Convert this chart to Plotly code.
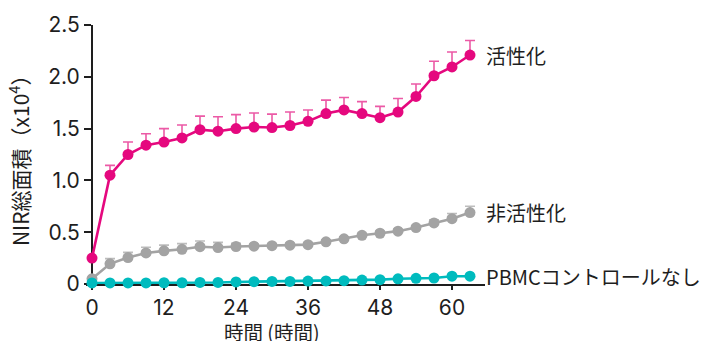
import plotly.graph_objects as go

# Time points (hours) and NIR total area (x10^4) per condition
hours = [0, 3, 6, 9, 12, 15, 18, 21, 24, 27, 30, 33, 36, 39, 42, 45, 48, 51, 54, 57, 60, 63]

activated = [0.25, 1.05, 1.25, 1.34, 1.37, 1.41, 1.49, 1.475, 1.50, 1.515, 1.51, 1.53,
             1.57, 1.645, 1.68, 1.645, 1.605, 1.66, 1.81, 2.01, 2.095, 2.21]
activated_err = [0.0, 0.095, 0.12, 0.11, 0.13, 0.125, 0.13, 0.14, 0.135, 0.135, 0.13, 0.13,
                 0.11, 0.13, 0.12, 0.115, 0.11, 0.13, 0.12, 0.14, 0.145, 0.14]

inactive = [0.05, 0.195, 0.255, 0.30, 0.32, 0.335, 0.36, 0.352, 0.362, 0.365, 0.37, 0.375,
            0.38, 0.407, 0.436, 0.47, 0.49, 0.51, 0.545, 0.59, 0.63, 0.69]
inactive_err = [0.0, 0.05, 0.05, 0.055, 0.055, 0.055, 0.055, 0.05, 0.03, 0.02, 0.02, 0.02,
                0.02, 0.02, 0.02, 0.02, 0.02, 0.02, 0.02, 0.03, 0.05, 0.06]

no_pbmc = [0.01, 0.01, 0.01, 0.01, 0.012, 0.012, 0.015, 0.015, 0.02, 0.022, 0.025, 0.025,
           0.028, 0.03, 0.032, 0.038, 0.042, 0.05, 0.055, 0.058, 0.075, 0.075]

series_names = ["活性化", "非活性化", "PBMCコントロールなし"]
x_ticks = [0, 12, 24, 36, 48, 60]
y_ticks = [0, 0.5, 1.0, 1.5, 2.0, 2.5]
y_tick_text = ["0", "0.5", "1.0", "1.5", "2.0", "2.5"]

PINK = "#E5087E"
PINK_ERR = "#EC5AA6"
GRAY = "#A3A3A3"
GRAY_ERR = "#BDBDBD"
CYAN = "#00BBBE"
INK = "#1E1E1E"
NUM_FONT = "Inter, Noto Sans CJK JP, sans-serif"
JP_FONT = "Noto Sans CJK JP, sans-serif"

X_MIN, X_MAX = -1.0, 65.5

fig = go.Figure()


def add_series(y, err, color, err_color, name):
    kw = {}
    if err is not None:
        kw["error_y"] = dict(type="data", symmetric=False, array=err,
                             arrayminus=[0] * len(err), color=err_color,
                             thickness=1.6, width=5)
    fig.add_trace(go.Scatter(
        x=hours, y=y, mode="lines+markers", name=name,
        line=dict(color=color, width=2.6),
        marker=dict(color=color, size=11),
        cliponaxis=False, showlegend=False, **kw))


add_series(inactive, inactive_err, GRAY, GRAY_ERR, series_names[1])
add_series(activated, activated_err, PINK, PINK_ERR, series_names[0])
add_series(no_pbmc, None, CYAN, None, series_names[2])

# Series labels at the line ends
label_y = [activated[-1], inactive[-1], no_pbmc[-1]]
for name, yv in zip(series_names, label_y):
    fig.add_annotation(x=0.998, xref="paper", y=yv, yref="y",
                       text=name, showarrow=False, xanchor="left", yanchor="middle",
                       font=dict(family=JP_FONT, size=20, color=INK))

# Axis titles
fig.add_annotation(x=-0.169, xref="paper", y=1.24, yref="y",
                   text="NIR総面積（x10<sup>4</sup>）", textangle=-90, showarrow=False,
                   xanchor="center", yanchor="middle",
                   font=dict(family=JP_FONT, size=21, color=INK))
fig.add_annotation(x=(272 - 86) / 399, xref="paper", y=-0.182, yref="paper",
                   text="時間 (時間)", showarrow=False, height=20,
                   xanchor="center", yanchor="middle",
                   font=dict(family=JP_FONT, size=19.5, color=INK))

fig.update_layout(
    width=712, height=342,
    margin=dict(l=86, r=227, t=23, b=58, pad=0),
    paper_bgcolor="white", plot_bgcolor="white",
    xaxis=dict(range=[X_MIN, X_MAX], tickvals=x_ticks, showgrid=False, zeroline=False,
               showline=True, linecolor=INK, linewidth=2, ticks="outside",
               ticklen=4, tickwidth=1.5, tickcolor=INK, layer="below traces",
               tickfont=dict(family=NUM_FONT, size=21, color=INK)),
    yaxis=dict(range=[0, 2.5], tickvals=y_ticks, ticktext=y_tick_text,
               anchor="free", position=(0 - X_MIN) / (X_MAX - X_MIN),
               showgrid=False, zeroline=False, showline=True, linecolor=INK,
               linewidth=2, ticks="outside", ticklen=7, tickwidth=1.5, tickcolor=INK,
               layer="below traces",
               tickfont=dict(family=NUM_FONT, size=21, color=INK)),
)

fig.write_html("out.html")
